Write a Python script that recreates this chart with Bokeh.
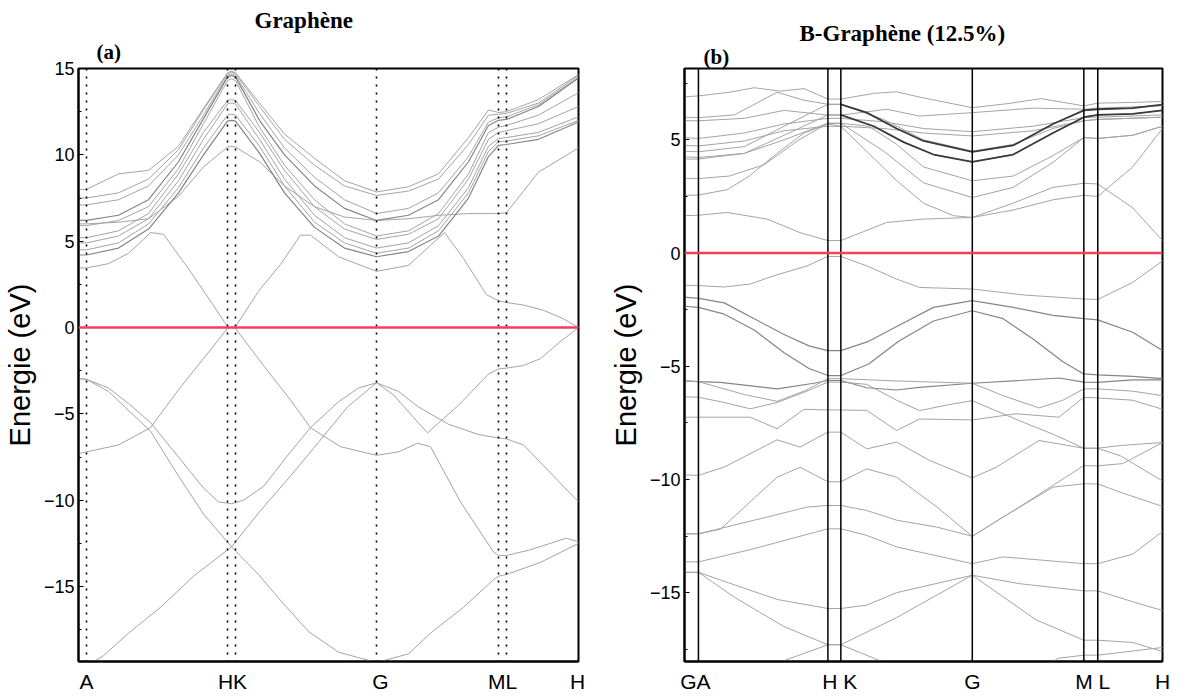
from bokeh.embed import file_html
from bokeh.layouts import row
from bokeh.models import FixedTicker, Range1d, Span, Title
from bokeh.plotting import figure
from bokeh.resources import INLINE

SANS = "Liberation Sans"
SERIF = "Liberation Serif"
BAND_TONES = ["#a4a4a4", "#858585", "#3a3a3a"]
BAND_WIDTHS = [1.0, 1.2, 1.8]
FERMI = "#f0405c"

# ---------------- panel (a): graphene, path A - H|K - G - M|L - H ----------------
a_k_ticks = [8, 154, 302, 424, 499]
a_k_labels = ["A", "HK", "G", "ML", "H"]
a_sym_lines = [8, 149, 157, 298, 420, 428]
a_y_major = [-15, -10, -5, 0, 5, 10, 15]
a_y_minor = [-17.5, -12.5, -7.5, -2.5, 2.5, 7.5, 12.5]

# conduction bundle on a shared k grid
a_cb_k = [0, 8, 40, 70, 100, 125, 149, 153, 157, 181, 206, 236, 266, 298, 330, 360, 390, 410, 420, 428, 460, 500]
a_cb1 = [8.0, 8.0, 8.9, 9.1, 10.5, 12.7, 14.75, 14.85, 14.75, 13.0, 11.2, 9.8, 8.5, 7.85, 8.15, 8.9, 11.0, 12.6, 12.45, 12.5, 13.2, 14.65]
a_cb2 = [7.5, 7.5, 7.8, 8.6, 10.3, 12.6, 14.7, 14.8, 14.7, 12.8, 10.9, 9.4, 8.2, 7.65, 7.9, 8.6, 10.6, 12.3, 12.35, 12.4, 13.0, 14.6]
a_cb3 = [7.1, 7.1, 7.4, 8.2, 10.0, 12.3, 14.6, 14.7, 14.6, 12.4, 10.4, 8.7, 7.4, 6.6, 6.9, 7.8, 9.9, 11.9, 12.15, 12.2, 12.9, 14.5]
a_cb4 = [6.2, 6.2, 6.5, 7.4, 9.6, 12.1, 14.5, 14.6, 14.5, 12.0, 10.0, 8.2, 6.9, 6.2, 6.5, 7.4, 9.6, 11.7, 12.0, 12.05, 12.8, 14.45]
a_cb5 = [5.9, 5.9, 6.2, 7.0, 9.2, 11.8, 14.3, 14.4, 14.3, 11.6, 9.4, 7.4, 6.0, 5.3, 5.6, 6.6, 8.9, 11.3, 11.6, 11.7, 12.3, 13.6]
a_cb6 = [5.2, 5.2, 5.6, 6.6, 8.9, 11.3, 13.15, 13.2, 13.15, 11.3, 9.1, 7.0, 5.7, 5.1, 5.4, 6.3, 8.6, 10.9, 11.3, 11.4, 11.8, 12.8]
a_cb7 = [4.9, 4.9, 5.3, 6.3, 8.5, 10.9, 12.95, 13.0, 12.95, 10.9, 8.6, 6.5, 5.2, 4.6, 4.9, 5.9, 8.1, 10.5, 10.95, 11.0, 11.3, 12.2]
a_cb8 = [4.5, 4.5, 4.9, 6.0, 8.1, 10.4, 12.3, 12.35, 12.3, 10.5, 8.2, 6.1, 4.9, 4.3, 4.6, 5.6, 7.8, 10.2, 10.75, 10.8, 11.1, 12.0]
a_cb9 = [4.2, 4.2, 4.6, 5.7, 7.8, 10.0, 11.95, 12.0, 11.95, 10.1, 7.8, 5.8, 4.6, 4.1, 4.4, 5.3, 7.5, 9.9, 10.55, 10.6, 10.9, 11.9]
a_cb10 = [6.0, 6.0, 6.1, 6.3, 7.6, 9.3, 10.45, 10.5, 10.45, 9.6, 8.2, 7.0, 6.4, 6.2, 6.3, 6.5, 6.6, 6.6, 6.6, 6.65, 9.0, 10.4]

# pi* band (Dirac cone at HK)
a_pistar_k = [0, 8, 30, 50, 65, 72, 85, 110, 130, 149, 153, 157, 180, 202, 222, 232, 260, 298, 330, 366, 385, 408, 420, 428, 445, 465, 485, 500]
a_pistar_e = [3.45, 3.45, 3.7, 4.3, 5.1, 5.5, 5.4, 3.4, 1.7, 0.05, 0.0, 0.05, 2.1, 3.65, 5.35, 5.35, 4.1, 3.25, 3.6, 5.5, 4.0, 1.9, 1.55, 1.45, 1.3, 1.0, 0.5, 0.0]

# valence bands
a_pi_k = [0, 8, 40, 72, 100, 125, 149, 153, 157, 185, 212, 232, 262, 298, 320, 339, 352, 382, 415, 420, 428, 450, 488, 500]
a_pi_e = [-7.3, -7.2, -6.8, -5.8, -3.6, -1.8, -0.05, 0.0, -0.05, -2.2, -4.2, -5.8, -6.9, -7.4, -7.2, -6.7, -6.9, -10.1, -13.0, -13.2, -13.2, -12.9, -12.2, -12.4]
a_vb1_k = [0, 8, 30, 50, 72, 100, 125, 140, 153, 165, 185, 212, 232, 260, 280, 298, 320, 340, 370, 400, 420, 428, 445, 470, 500]
a_vb1_e = [-2.95, -3.0, -3.5, -4.4, -5.5, -7.5, -9.3, -10.1, -10.2, -10.0, -9.2, -7.2, -5.8, -4.3, -3.5, -3.2, -3.7, -4.6, -5.6, -6.2, -6.4, -6.45, -6.8, -8.3, -10.1]
a_vb2_k = [0, 8, 30, 50, 72, 100, 125, 153, 180, 202, 230, 260, 298, 330, 352, 385, 415, 420, 428, 462, 500]
a_vb2_e = [-2.95, -3.0, -3.7, -4.8, -6.0, -8.6, -10.8, -12.7, -14.3, -15.8, -17.6, -18.8, -19.4, -18.9, -17.7, -16.2, -14.6, -14.4, -14.3, -13.6, -12.5]
a_vb3_k = [0, 8, 25, 50, 82, 115, 153, 182, 212, 235, 269, 298, 315, 335, 349, 380, 410, 420, 428, 445, 462, 480, 500]
a_vb3_e = [-19.8, -19.6, -19.0, -17.7, -16.2, -14.4, -12.7, -10.6, -8.6, -7.0, -4.6, -3.2, -3.9, -5.2, -6.1, -4.5, -2.7, -2.4, -2.35, -2.2, -1.8, -0.9, 0.0]

# ---------------- panel (b): B-doped graphene, path G A - H|K - G - M|L - H ----------------
b_k_ticks = [11, 156, 289, 410, 480]
b_k_labels = ["GA", "H K", "G", "M L", "H"]
b_sym_lines = [14, 144, 157, 289, 401, 415]
b_y_major = [-15, -10, -5, 0, 5]
b_y_minor = [-17.5, -12.5, -7.5, -2.5, 2.5, 7.5]

b_cb1_k = [0, 14, 45, 70, 96, 120, 144, 157, 190, 213, 240, 289, 325, 358, 401, 415, 450, 480]
b_cb1_e = [6.9, 6.94, 7.1, 7.3, 7.15, 7.26, 6.8, 6.8, 7.05, 7.12, 6.85, 6.42, 6.6, 6.82, 6.5, 6.62, 6.65, 6.7]
b_cb2_k = [0, 14, 50, 93, 120, 144, 157, 183, 213, 240, 289, 330, 370, 401, 415, 450, 480]
b_cb2_e = [6.0, 5.98, 6.1, 7.1, 6.75, 6.57, 6.57, 6.2, 5.5, 4.95, 4.47, 4.75, 5.7, 6.3, 6.35, 6.4, 6.55]
b_cb3_k = [0, 14, 60, 100, 144, 157, 190, 220, 250, 289, 330, 370, 401, 415, 450, 480]
b_cb3_e = [4.15, 4.15, 4.4, 5.2, 6.1, 6.1, 5.6, 4.9, 4.35, 4.03, 4.35, 5.3, 6.0, 6.1, 6.15, 6.3]
b_cb4_k = [0, 14, 60, 100, 144, 157, 203, 236, 289, 350, 401, 415, 480]
b_cb4_e = [5.85, 5.84, 5.95, 6.3, 6.09, 6.09, 6.35, 6.05, 6.2, 6.4, 6.35, 6.4, 6.5]
b_cb5_k = [0, 14, 60, 100, 144, 157, 200, 240, 289, 350, 401, 415, 480]
b_cb5_e = [5.1, 5.06, 5.3, 5.7, 5.95, 5.95, 5.8, 5.5, 5.36, 5.6, 5.98, 6.0, 6.1]
b_cb6_k = [0, 14, 60, 100, 144, 157, 200, 240, 289, 350, 401, 415, 480]
b_cb6_e = [4.75, 4.73, 4.95, 5.4, 5.6, 5.6, 5.5, 5.3, 5.17, 5.4, 5.84, 5.9, 6.0]
b_cb7_k = [0, 14, 60, 100, 144, 157, 200, 240, 289, 330, 370, 401, 415, 480]
b_cb7_e = [4.5, 4.47, 4.7, 5.6, 6.57, 6.57, 5.9, 5.0, 4.5, 4.8, 5.5, 5.84, 5.9, 6.0]
b_cb8_k = [0, 14, 60, 100, 144, 157, 185, 213, 240, 289, 330, 370, 401, 415, 450, 480]
b_cb8_e = [4.25, 4.22, 4.4, 5.0, 5.73, 5.73, 5.6, 4.8, 3.8, 3.19, 3.4, 4.3, 5.1, 5.06, 5.2, 5.6]
b_cb9_k = [0, 14, 45, 80, 115, 144, 157, 200, 240, 289, 330, 370, 401, 415, 450, 480]
b_cb9_e = [3.3, 3.29, 3.4, 3.9, 5.0, 5.73, 5.73, 4.5, 3.1, 2.45, 2.9, 4.0, 5.1, 5.06, 5.2, 5.6]
b_cb10_k = [0, 14, 43, 65, 93, 120, 144, 157, 185, 213, 240, 270, 289, 330, 370, 401, 415, 450, 480]
b_cb10_e = [2.55, 2.56, 2.8, 3.4, 4.4, 5.3, 5.7, 5.6, 4.4, 3.2, 2.2, 1.65, 1.57, 1.9, 2.35, 2.55, 2.5, 3.8, 5.5]
b_cb11_k = [0, 14, 43, 83, 116, 144, 157, 180, 203, 240, 289, 330, 370, 401, 415, 450, 480]
b_cb11_e = [1.65, 1.67, 1.79, 1.5, 0.9, 0.55, 0.55, 0.95, 1.35, 1.5, 1.57, 2.2, 2.9, 3.08, 3.05, 2.0, 0.55]

b_vb1_k = [0, 14, 40, 66, 90, 123, 144, 157, 185, 213, 236, 289, 340, 401, 415, 450, 480]
b_vb1_e = [-1.42, -1.44, -1.5, -1.37, -1.0, -0.57, -0.15, -0.15, -0.6, -1.15, -1.52, -1.59, -1.85, -2.03, -2.05, -1.3, -0.35]
b_vb2_k = [0, 14, 40, 70, 100, 125, 144, 157, 185, 215, 250, 289, 330, 370, 401, 415, 450, 480]
b_vb2_e = [-1.95, -2.0, -2.2, -2.9, -3.6, -4.1, -4.31, -4.31, -3.9, -3.2, -2.4, -2.1, -2.4, -2.75, -2.9, -2.95, -3.5, -4.3]
b_vb3_k = [0, 14, 40, 70, 100, 125, 144, 157, 185, 215, 250, 289, 320, 350, 380, 401, 415, 450, 480]
b_vb3_e = [-2.35, -2.4, -2.7, -3.4, -4.4, -5.1, -5.41, -5.41, -4.9, -3.9, -3.0, -2.55, -2.9, -3.8, -4.8, -5.34, -5.38, -5.45, -5.55]
b_vb4_k = [0, 14, 36, 93, 130, 144, 157, 183, 213, 236, 289, 336, 376, 401, 415, 450, 480]
b_vb4_e = [-5.65, -5.68, -5.71, -6.0, -5.75, -5.63, -5.63, -5.95, -6.05, -5.93, -5.75, -5.63, -5.52, -5.7, -5.71, -5.6, -5.6]
b_vb5_k = [0, 14, 60, 93, 120, 144, 157, 185, 213, 250, 289, 320, 356, 380, 401, 415, 450, 480]
b_vb5_e = [-5.65, -5.68, -6.25, -6.55, -6.1, -5.55, -5.55, -5.6, -5.65, -5.7, -5.75, -6.3, -6.84, -6.5, -6.0, -6.0, -6.1, -6.3]
b_vb6_k = [0, 14, 40, 66, 93, 123, 144, 157, 183, 213, 236, 265, 289, 336, 370, 401, 415, 438, 480]
b_vb6_e = [-6.35, -6.37, -6.6, -6.88, -6.6, -6.1, -5.7, -5.7, -5.8, -6.5, -6.96, -6.7, -6.52, -7.4, -8.0, -8.62, -8.62, -8.5, -8.37]
b_vb7_k = [0, 14, 66, 93, 120, 144, 157, 183, 213, 236, 289, 333, 376, 401, 415, 450, 480]
b_vb7_e = [-7.25, -7.25, -7.25, -7.76, -6.9, -6.93, -6.93, -6.95, -7.84, -7.33, -7.37, -7.1, -7.25, -6.37, -6.4, -6.5, -6.9]
b_vb8_k = [0, 14, 40, 93, 116, 144, 157, 183, 213, 246, 289, 313, 356, 401, 415, 438, 480]
b_vb8_e = [-9.8, -9.82, -9.45, -8.25, -8.57, -7.91, -7.91, -8.65, -8.35, -9.16, -9.93, -9.46, -8.28, -8.62, -8.62, -8.96, -10.07]
b_vb9_k = [0, 14, 36, 93, 116, 144, 157, 183, 213, 253, 289, 320, 370, 401, 415, 440, 480]
b_vb9_e = [-12.4, -12.4, -12.2, -9.9, -9.46, -10.1, -10.1, -9.53, -9.9, -11.2, -12.51, -11.66, -10.34, -10.19, -10.2, -10.6, -11.19]
b_vb10_k = [0, 14, 83, 123, 144, 157, 183, 213, 253, 289, 336, 401, 415, 440, 480]
b_vb10_e = [-12.4, -12.4, -11.66, -11.22, -11.15, -11.15, -11.37, -11.8, -12.1, -12.51, -11.22, -9.39, -9.4, -9.3, -8.37]
b_vb11_k = [0, 14, 66, 144, 157, 183, 213, 289, 320, 401, 415, 450, 480]
b_vb11_e = [-13.64, -13.64, -13.1, -12.18, -12.18, -12.47, -12.98, -13.72, -13.42, -13.72, -13.72, -13.3, -12.3]
b_vb12_k = [0, 14, 40, 93, 144, 157, 183, 213, 289, 336, 401, 415, 450, 480]
b_vb12_e = [-14.1, -14.1, -14.5, -15.3, -15.7, -15.7, -15.55, -15.0, -14.23, -14.6, -14.92, -14.92, -15.4, -15.79]
b_vb13_k = [0, 14, 50, 100, 144, 157, 196, 230, 289, 350, 375, 401, 415, 480]
b_vb13_e = [-14.1, -14.1, -15.2, -16.5, -17.3, -17.3, -18.0, -18.6, -19.2, -18.6, -17.9, -17.76, -17.76, -17.42]
b_vb14_k = [60, 100, 144, 157, 213, 289, 353, 401, 415, 450, 480]
b_vb14_e = [-19.0, -18.0, -17.3, -17.3, -16.1, -14.23, -16.2, -17.1, -17.1, -17.2, -17.6]


def make_panel(width, height, borders, x_end, y_range, k_ticks, k_labels, y_major, y_minor):
    left, right, top, bottom = borders
    p = figure(width=width, height=height, output_backend="svg", toolbar_location=None,
               title=None, x_range=Range1d(0, x_end), y_range=Range1d(*y_range),
               min_border_left=left, min_border_right=right,
               min_border_top=top, min_border_bottom=bottom)
    p.background_fill_color = "white"
    p.border_fill_color = "white"
    p.outline_line_color = "black"
    p.outline_line_width = 2
    p.grid.visible = False

    p.xaxis.ticker = FixedTicker(ticks=k_ticks)
    p.xaxis.major_label_overrides = {t: s for t, s in zip(k_ticks, k_labels)}
    p.xaxis.major_tick_in = 0
    p.xaxis.major_tick_out = 0
    p.xaxis.minor_tick_line_color = None
    p.xaxis.major_label_standoff = 8
    p.xaxis.major_label_text_font = SANS
    p.xaxis.major_label_text_font_size = "21px"
    p.xaxis.major_label_text_color = "black"
    p.xaxis.axis_line_width = 2

    p.yaxis.ticker = FixedTicker(ticks=y_major, minor_ticks=y_minor)
    p.yaxis.major_tick_in = 5
    p.yaxis.major_tick_out = 0
    p.yaxis.minor_tick_in = 3
    p.yaxis.minor_tick_out = 0
    p.yaxis.major_label_standoff = 4
    p.yaxis.major_label_text_font = SANS
    p.yaxis.major_label_text_font_size = "18px"
    p.yaxis.major_label_text_color = "black"
    p.yaxis.axis_line_width = 2
    p.yaxis.axis_label = "Energie (eV)"
    p.yaxis.axis_label_text_font = SANS
    p.yaxis.axis_label_text_font_style = "normal"
    p.yaxis.axis_label_text_font_size = "29px"
    p.yaxis.axis_label_text_color = "black"
    p.yaxis.axis_label_standoff = 5
    return p


def add_headings(p, tag, tag_offset, tag_standoff, name, name_offset, name_standoff):
    # panel tag sits right on the frame, the material name above it
    p.add_layout(Title(text=tag, align="left", offset=tag_offset, standoff=tag_standoff,
                       text_font=SERIF, text_font_style="bold", text_font_size="21px",
                       text_color="black"), "above")
    p.add_layout(Title(text=name, align="left", offset=name_offset, standoff=name_standoff,
                       text_font=SERIF, text_font_style="bold", text_font_size="23px",
                       text_color="black"), "above")


def draw_bands(p, bands):
    for k, e, tone in bands:
        p.line(k, e, line_color=BAND_TONES[tone], line_width=BAND_WIDTHS[tone])


def draw_bold_from(p, k, e, k_start):
    # darker overlay on the part of a band that starts at k_start
    i = k.index(k_start)
    p.line(k[i:], e[i:], line_color=BAND_TONES[2], line_width=BAND_WIDTHS[2])


# ---- panel (a)
pa = make_panel(606, 699, (78, 28, 68, 38), 500, (-19.34, 15.0),
                a_k_ticks, a_k_labels, a_y_major, a_y_minor)
add_headings(pa, "(a)", 18, 10, "Graphène", 176, 0)
a_bands = [(a_cb_k, c, 0) for c in (a_cb1, a_cb2, a_cb3, a_cb5, a_cb6, a_cb7, a_cb8, a_cb10)]
a_bands += [(a_cb_k, a_cb4, 1), (a_cb_k, a_cb9, 1)]
a_bands += [(a_pistar_k, a_pistar_e, 0), (a_pi_k, a_pi_e, 0),
            (a_vb1_k, a_vb1_e, 0), (a_vb2_k, a_vb2_e, 0), (a_vb3_k, a_vb3_e, 0)]
draw_bands(pa, a_bands)
for k in a_sym_lines:
    pa.add_layout(Span(location=k, dimension="height", line_color="black",
                       line_width=1.6, line_dash="2 6"))
pa.add_layout(Span(location=0, dimension="width", line_color=FERMI, line_width=2.5))

# ---- panel (b)
pb = make_panel(574, 699, (76, 18, 68, 38), 480, (-18.04, 8.15),
                b_k_ticks, b_k_labels, b_y_major, b_y_minor)
add_headings(pb, "(b)", 19, 0, "B-Graphène (12.5%)", 115, -7)
b_bands = [
    (b_cb1_k, b_cb1_e, 0), (b_cb2_k, b_cb2_e, 0), (b_cb3_k, b_cb3_e, 0), (b_cb4_k, b_cb4_e, 0),
    (b_cb5_k, b_cb5_e, 0), (b_cb6_k, b_cb6_e, 0), (b_cb7_k, b_cb7_e, 0), (b_cb8_k, b_cb8_e, 0),
    (b_cb9_k, b_cb9_e, 0), (b_cb10_k, b_cb10_e, 0), (b_cb11_k, b_cb11_e, 0),
    (b_vb1_k, b_vb1_e, 0), (b_vb2_k, b_vb2_e, 1), (b_vb3_k, b_vb3_e, 1), (b_vb4_k, b_vb4_e, 1),
    (b_vb5_k, b_vb5_e, 0), (b_vb6_k, b_vb6_e, 0), (b_vb7_k, b_vb7_e, 0), (b_vb8_k, b_vb8_e, 0),
    (b_vb9_k, b_vb9_e, 0), (b_vb10_k, b_vb10_e, 0), (b_vb11_k, b_vb11_e, 0),
    (b_vb12_k, b_vb12_e, 0), (b_vb13_k, b_vb13_e, 0), (b_vb14_k, b_vb14_e, 0),
]
draw_bands(pb, b_bands)
draw_bold_from(pb, b_cb2_k, b_cb2_e, 157)
draw_bold_from(pb, b_cb3_k, b_cb3_e, 157)
for k in b_sym_lines:
    pb.add_layout(Span(location=k, dimension="height", line_color="black", line_width=1.5))
pb.add_layout(Span(location=0, dimension="width", line_color=FERMI, line_width=2.5))

layout = row(pa, pb)
open("out.html", "w").write(file_html(layout, INLINE))
